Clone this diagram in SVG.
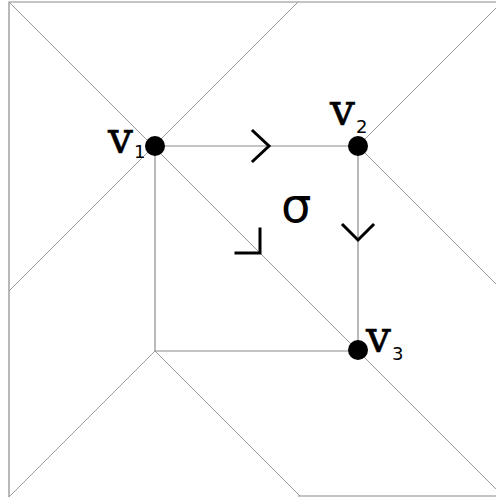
<svg xmlns="http://www.w3.org/2000/svg" width="496" height="500" viewBox="0 0 496 500">
<style>
.bd{stroke:#8a8a8a;stroke-width:1.2;fill:none}
.dg{stroke:#9a9a9a;stroke-width:1;fill:none}
.sq{stroke:#8a8a8a;stroke-width:1.2;fill:none}
.ar{stroke:#000;stroke-width:3;fill:none;stroke-linecap:square;stroke-linejoin:miter}
.v{font-family:"DejaVu Serif",serif;font-size:44px;fill:#000;stroke:#000;stroke-width:0.6}
.s{font-family:"DejaVu Sans",sans-serif;font-size:18px;fill:#000}
.sig{font-family:"DejaVu Sans",sans-serif;font-size:48px;fill:#000}
</style>
<rect width="496" height="500" fill="#fff"/>
<g id="connectors">
<polyline class="bd" points="496,2 9,2 9,497"/>
<line class="bd" x1="298" y1="496" x2="496" y2="496"/>
<line class="dg" x1="9" y1="2" x2="496" y2="489"/>
<line class="dg" x1="298" y1="2" x2="9" y2="291"/>
<line class="dg" x1="496" y1="8" x2="358" y2="146"/>
<line class="dg" x1="358" y1="146" x2="496" y2="284"/>
<polyline class="dg" points="9,497 155,351 300,496"/>
<line class="sq" x1="155" y1="146" x2="358" y2="146"/>
<line class="sq" x1="358" y1="146" x2="358" y2="350"/>
<line class="sq" x1="155" y1="146" x2="155" y2="351"/>
<line class="sq" x1="155" y1="351" x2="358" y2="351"/>
<polyline class="ar" points="253,131 269,146 253,161"/>
<polyline class="ar" points="343,225 358,240 373,225"/>
<polyline class="ar" points="236,253 260,253 260,229"/>
</g>
<g id="v1">
<circle cx="155" cy="146" r="10"/>
<text class="v" x="108" y="153">v</text><text class="s" x="134" y="158">1</text>
</g>
<g id="v2">
<circle cx="358" cy="146" r="10"/>
<text class="v" x="330" y="125">v</text><text class="s" x="356" y="133">2</text>
</g>
<g id="v3">
<circle cx="358" cy="350" r="10"/>
<text class="v" x="366" y="352">v</text><text class="s" x="392" y="360">3</text>
</g>
<g id="sigma">
<text class="sig" x="281" y="222">σ</text>
</g>
</svg>
